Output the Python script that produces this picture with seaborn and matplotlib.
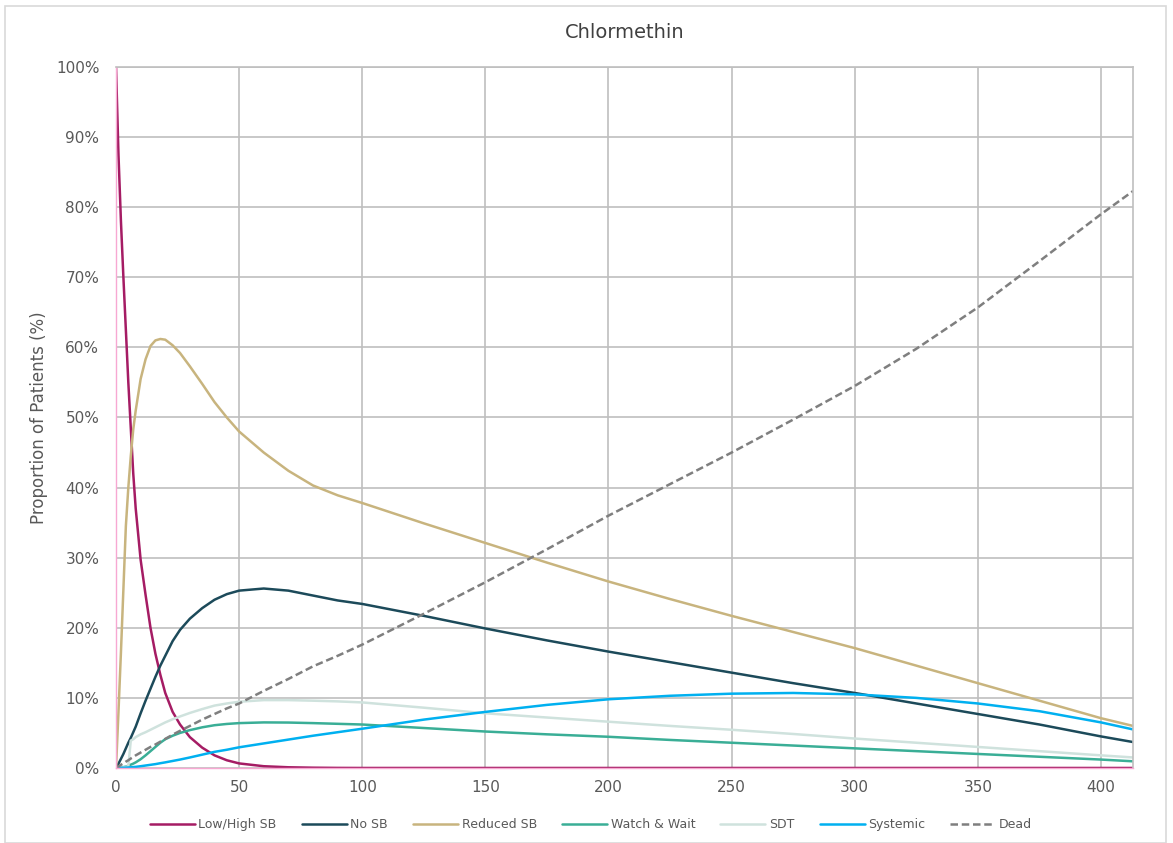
import numpy as np
import pandas as pd
import matplotlib.pyplot as plt
import matplotlib.patches as mpatches
import seaborn as sns

# time points (x axis)
x = [0, 1, 2, 3, 4, 5, 6, 7, 8, 10, 12, 14, 16, 18, 20, 23, 26, 30, 35, 40, 45, 50, 60, 70, 80, 90, 100,
     125, 150, 175, 200, 225, 250, 275, 300, 325, 350, 375, 400, 413]

low_high_sb = [100, 87.5, 78, 70, 62.5, 55, 48.5, 42, 37, 29.7, 24.7, 20.0, 16.3, 13.3, 10.7, 8.0, 6.2, 4.4,
               2.9, 1.8, 1.1, 0.65, 0.25, 0.1, 0.04, 0.01, 0,
               0, 0, 0, 0, 0, 0, 0, 0, 0, 0, 0, 0, 0]
no_sb = [0, 0.6, 1.3, 2.0, 2.8, 3.6, 4.3, 5.1, 5.9, 7.8, 9.6, 11.3, 13.0, 14.6, 16.0, 18.1, 19.7, 21.3,
         22.8, 24.0, 24.8, 25.3, 25.6, 25.3, 24.6, 23.9, 23.4,
         21.7, 19.9, 18.2, 16.6, 15.1, 13.6, 12.1, 10.7, 9.2, 7.7, 6.2, 4.5, 3.7]
reduced_sb = [0, 8, 16.5, 25.5, 34.5, 40, 44.5, 48.3, 51, 55.5, 58.3, 60.2, 61.0, 61.2, 61.1, 60.3, 59.2, 57.3,
              54.8, 52.2, 50.0, 48.0, 45.0, 42.4, 40.3, 38.9, 37.8,
              34.9, 32.1, 29.3, 26.6, 24.1, 21.7, 19.4, 17.1, 14.6, 12.1, 9.6, 7.1, 6.0]
watch_wait = [0, 0.01, 0.05, 0.12, 0.2, 0.32, 0.47, 0.62, 0.8, 1.25, 1.8, 2.4, 3.0, 3.6, 4.1, 4.6, 5.0, 5.4,
              5.8, 6.1, 6.28, 6.4, 6.5, 6.48, 6.4, 6.3, 6.2,
              5.7, 5.2, 4.8, 4.45, 4.0, 3.6, 3.2, 2.8, 2.4, 2.0, 1.6, 1.2, 0.95]
sdt = [0, 0.02, 0.05, 0.1, 0.15, 0.25, 3.9, 4.1, 4.4, 4.8, 5.1, 5.45, 5.8, 6.15, 6.5, 6.95, 7.35, 7.85,
       8.4, 8.9, 9.2, 9.45, 9.68, 9.68, 9.6, 9.5, 9.35,
       8.6, 7.8, 7.2, 6.6, 6.0, 5.45, 4.85, 4.2, 3.6, 3.0, 2.4, 1.8, 1.5]
systemic = [0, 0.01, 0.02, 0.04, 0.05, 0.07, 0.1, 0.13, 0.16, 0.25, 0.35, 0.45, 0.55, 0.68, 0.8, 1.0, 1.2, 1.5,
            1.9, 2.3, 2.6, 2.95, 3.5, 4.05, 4.6, 5.1, 5.6,
            6.9, 8.0, 9.0, 9.8, 10.3, 10.6, 10.7, 10.5, 10.0, 9.2, 8.1, 6.5, 5.5]
dead = [0, 0.2, 0.45, 0.65, 0.9, 1.1, 1.35, 1.55, 1.8, 2.2, 2.6, 3.0, 3.35, 3.75, 4.15, 4.75, 5.3, 6.0,
        6.9, 7.7, 8.5, 9.2, 11.0, 12.7, 14.5, 16.0, 17.6,
        22, 26.5, 31.2, 36, 40.5, 45, 49.7, 54.5, 59.8, 65.7, 72.3, 79, 82.3]

names = ['Low/High SB', 'No SB', 'Reduced SB', 'Watch & Wait', 'SDT', 'Systemic', 'Dead']
series = [low_high_sb, no_sb, reduced_sb, watch_wait, sdt, systemic, dead]
colors = ['#a51c64', '#1c4a5a', '#c8b47e', '#3aae96', '#cfe2dd', '#00b0f0', '#7f7f7f']

frames = []
for n, vals in zip(names, series):
    frames.append(pd.DataFrame({'t': x, 'p': np.array(vals) / 100, 'series': n}))
df = pd.concat(frames, ignore_index=True)

sns.set_style('white')
plt.rcParams['font.family'] = ['DejaVu Sans']

fig = plt.figure(figsize=(11.73, 8.43), dpi=100)
ax = fig.add_axes([0.0989, 0.089, 0.867, 0.8315])

dashes = {n: '' for n in names}
dashes['Dead'] = (3, 1.5)
sns.lineplot(data=df, x='t', y='p', hue='series', style='series', hue_order=names, style_order=names,
             palette=dict(zip(names, colors)), dashes=dashes, linewidth=1.8, ax=ax)
for ln in ax.get_lines():
    ln.set_solid_joinstyle('round')

ax.set_xlim(0, 413)
ax.set_ylim(0, 1.0)
ax.set_xticks(range(0, 401, 50))
ax.set_yticks(np.arange(0, 1.01, 0.1))
ax.set_yticklabels([f'{int(round(v * 100))}%' for v in np.arange(0, 1.01, 0.1)])
ax.grid(True, color='#bfbfbf', linewidth=1.2)
ax.set_axisbelow(True)
ax.tick_params(length=0, labelsize=11, labelcolor='#595959')
ax.tick_params(axis='y', pad=12)
ax.tick_params(axis='x', pad=9)
ax.set_xlabel('')
ax.set_ylabel('Proportion of Patients (%)', fontsize=12, color='#595959', labelpad=6)
ax.set_title('Chlormethin', fontsize=14, color='#404040', pad=21)

for s in ['top', 'right']:
    ax.spines[s].set_color('#bfbfbf')
    ax.spines[s].set_linewidth(1.2)
for s in ['left', 'bottom']:
    ax.spines[s].set_color('#f7a8d2')
    ax.spines[s].set_linewidth(1.0)

sns.move_legend(ax, 'upper center', bbox_to_anchor=(0.467, -0.056), ncol=7, frameon=False, title=None,
                fontsize=9, handlelength=3.6, columnspacing=2.0, handletextpad=0.3)
for t in ax.get_legend().get_texts():
    t.set_color('#595959')

fig.patches.append(mpatches.Rectangle((0.004, 0.0), 0.99, 0.993, transform=fig.transFigure,
                                      fill=False, edgecolor='#d9d9d9', linewidth=1.2))

fig.savefig('out.png', dpi=100)
